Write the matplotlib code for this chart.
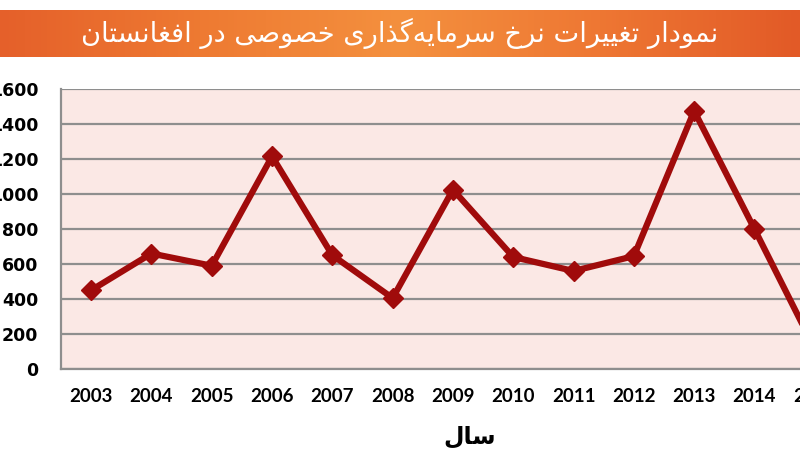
import numpy as np
import matplotlib.pyplot as plt
from matplotlib.colors import LinearSegmentedColormap

# data
years = ["2003", "2004", "2005", "2006", "2007", "2008", "2009",
         "2010", "2011", "2012", "2013", "2014", "2015"]
values = [450, 660, 590, 1215, 650, 405, 1025, 640, 560, 645, 1475, 800, 115]
yticks = [0, 200, 400, 600, 800, 1000, 1200, 1400, 1600]

title = "نمودار تغییرات نرخ سرمایه\u200cگذاری خصوصی در افغانستان"
xlabel = "سال"

# matplotlib has no arabic shaping, so pick presentation forms by hand
FORMS = {
    "\u0627": ("\uFE8D", "\uFE8E", None, None),
    "\u062F": ("\uFEA9", "\uFEAA", None, None),
    "\u0630": ("\uFEAB", "\uFEAC", None, None),
    "\u0631": ("\uFEAD", "\uFEAE", None, None),
    "\u0648": ("\uFEED", "\uFEEE", None, None),
    "\u062A": ("\uFE95", "\uFE96", "\uFE97", "\uFE98"),
    "\u062E": ("\uFEA5", "\uFEA6", "\uFEA7", "\uFEA8"),
    "\u0633": ("\uFEB1", "\uFEB2", "\uFEB3", "\uFEB4"),
    "\u0635": ("\uFEB9", "\uFEBA", "\uFEBB", "\uFEBC"),
    "\u063A": ("\uFECD", "\uFECE", "\uFECF", "\uFED0"),
    "\u0641": ("\uFED1", "\uFED2", "\uFED3", "\uFED4"),
    "\u0644": ("\uFEDD", "\uFEDE", "\uFEDF", "\uFEE0"),
    "\u0645": ("\uFEE1", "\uFEE2", "\uFEE3", "\uFEE4"),
    "\u0646": ("\uFEE5", "\uFEE6", "\uFEE7", "\uFEE8"),
    "\u0647": ("\uFEE9", "\uFEEA", "\uFEEB", "\uFEEC"),
    "\u06CC": ("\uFBFC", "\uFBFD", "\uFBFE", "\uFBFF"),
    "\u06AF": ("\uFB92", "\uFB93", "\uFB94", "\uFB95"),
}


def shape(text):
    out = []
    for i, c in enumerate(text):
        if c not in FORMS:
            if c != "\u200c":
                out.append(c)
            continue
        prev = text[i - 1] if i > 0 else None
        nxt = text[i + 1] if i + 1 < len(text) else None
        jp = prev in FORMS and FORMS[prev][2] is not None
        jn = FORMS[c][2] is not None and nxt in FORMS
        iso, fin, ini, med = FORMS[c]
        if jp and jn:
            out.append(med)
        elif jp:
            out.append(fin)
        elif jn:
            out.append(ini)
        else:
            out.append(iso)
    return "".join(out)[::-1]


W, H = 800, 458
fig = plt.figure(figsize=(8, 4.58), dpi=100)
fig.patch.set_facecolor("white")

# orange banner
bax = fig.add_axes([0, (H - 57) / H, 1, 47 / H])
grad = np.linspace(0, 1, 256)
cmap = LinearSegmentedColormap.from_list(
    "banner", ["#E5602A", "#EE7A32", "#F4903E", "#EE7733", "#E25A27"])
bax.imshow(grad[None, :], aspect="auto", cmap=cmap, extent=[0, 1, 0, 1])
bax.set_axis_off()
fig.text(0.5, 1 - 33 / H, shape(title), color="white", fontsize=19.6,
         family="DejaVu Sans", ha="center", va="center")

# main plot, runs off the right edge like the source picture
left = 61 / W
bottom = (H - 369) / H
ax = fig.add_axes([left, bottom, 13 * 60.3 / W, 280 / H])
ax.set_facecolor("#FBE8E5")
x = np.arange(len(years))
ax.plot(x, values, color="#A00B0B", lw=4.5, marker="D", ms=10.5,
        solid_joinstyle="miter", zorder=3)
ax.set_xlim(-0.5, len(years) - 0.5)
ax.set_ylim(0, 1600)
ax.set_yticks(yticks)
ax.set_yticklabels([str(v) for v in yticks], fontsize=12.5, fontweight="bold",
                   family="DejaVu Sans")
ax.set_xticks(x)
ax.set_xticklabels(years, fontsize=13.5, fontweight="bold", family="Lato")
ax.tick_params(length=0)
ax.tick_params(axis="y", pad=16.5)
ax.tick_params(axis="x", pad=14)
ax.grid(axis="y", color="#8E8E8E", lw=1.6)
ax.set_axisbelow(True)
for s in ["top", "right"]:
    ax.spines[s].set_visible(False)
for s in ["left", "bottom"]:
    ax.spines[s].set_color("#8E8E8E")
    ax.spines[s].set_linewidth(1.6)

fig.text(470 / W, 1 - 437 / H, shape(xlabel), fontsize=17, fontweight="bold",
         family="DejaVu Sans", ha="center", va="center")

fig.savefig("out.png", dpi=100)
